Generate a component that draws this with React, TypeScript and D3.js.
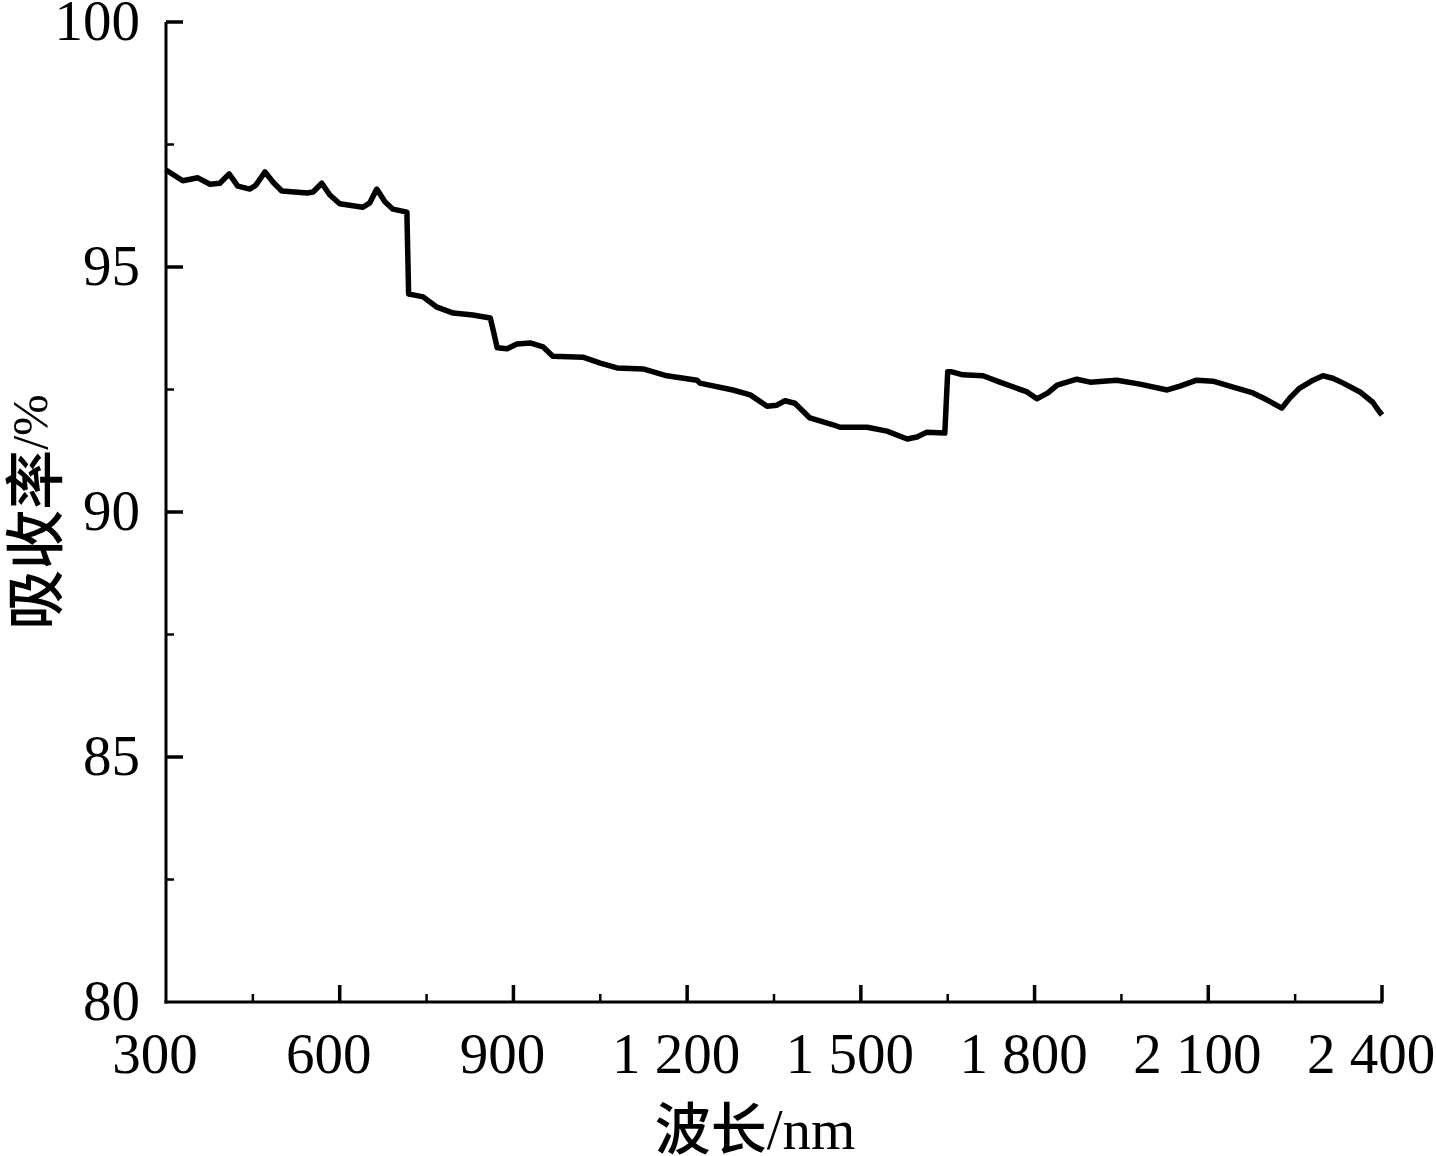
import React, { useEffect, useRef } from "react";
import * as d3 from "d3";

const wavelength = [
  300, 329, 355, 376, 393, 409, 424, 445, 455, 471, 485, 500, 544, 554, 569, 583, 600, 640, 652, 664, 678, 692, 716,
  719, 727, 744, 768, 796, 830, 860, 865, 872, 889, 906, 929, 951, 968, 1020, 1050, 1079, 1124, 1165, 1217, 1222,
  1279, 1309, 1338, 1355, 1369, 1386, 1412, 1452, 1464, 1511, 1545, 1580, 1597, 1614, 1645, 1650, 1657, 1676, 1711,
  1740, 1787, 1804, 1823, 1839, 1873, 1896, 1942, 1982, 2029, 2051, 2080, 2108, 2143, 2177, 2201, 2227, 2241, 2258,
  2281, 2298, 2315, 2333, 2362, 2384, 2396, 2400,
];
const absorptance = [
  96.98, 96.76, 96.82, 96.69, 96.71, 96.9, 96.65, 96.59, 96.67, 96.94, 96.73, 96.55, 96.51, 96.53, 96.71, 96.47, 96.29,
  96.22, 96.31, 96.59, 96.33, 96.18, 96.12, 94.45, 94.43, 94.39, 94.18, 94.06, 94.02, 93.96, 93.71, 93.35, 93.33,
  93.43, 93.45, 93.37, 93.18, 93.16, 93.04, 92.94, 92.92, 92.78, 92.69, 92.63, 92.49, 92.39, 92.16, 92.18, 92.27,
  92.22, 91.92, 91.78, 91.73, 91.73, 91.65, 91.49, 91.53, 91.63, 91.61, 92.86, 92.86, 92.8, 92.78, 92.65, 92.45,
  92.31, 92.43, 92.59, 92.71, 92.65, 92.69, 92.61, 92.49, 92.57, 92.69, 92.67, 92.55, 92.43, 92.29, 92.12, 92.33,
  92.53, 92.69, 92.78, 92.73, 92.63, 92.45, 92.24, 92.04, 91.98,
];
const xMajorTicks = [300, 600, 900, 1200, 1500, 1800, 2100, 2400];
const xMinorTicks = [450, 750, 1050, 1350, 1650, 1950, 2250];
const xTickLabels = ["300", "600", "900", "1 200", "1 500", "1 800", "2 100", "2 400"];
const yMajorTicks = [80, 85, 90, 95, 100];
const yMinorTicks = [82.5, 87.5, 92.5, 97.5];
const yTickLabels = ["80", "85", "90", "95", "100"];
const xTitle = "波长/nm";
const yTitleMain = "吸收率";
const yTitleUnit = "/%";

const W = 1436;
const H = 1156;
const M = { left: 166, right: 54, top: 22, bottom: 154 };
const SERIF = '"Liberation Serif", "Times New Roman", serif';
const CJK = '"Noto Sans CJK SC", "Liberation Serif", sans-serif';

export default function App() {
  const ref = useRef<SVGSVGElement | null>(null);

  useEffect(() => {
    document.body.style.margin = "0";
    const svg = d3.select(ref.current);
    svg.selectAll("*").remove();

    const x = d3.scaleLinear().domain([300, 2400]).range([M.left, W - M.right]);
    const y = d3.scaleLinear().domain([80, 100]).range([H - M.bottom, M.top]);
    const x0 = x(300);
    const y0 = y(80);

    const g = svg.append("g");

    // axis lines
    g.append("line").attr("x1", x0).attr("x2", x0).attr("y1", y(100)).attr("y2", y0 + 1.5)
      .attr("stroke", "#000").attr("stroke-width", 3);
    g.append("line").attr("x1", x0 - 1.5).attr("x2", x(2400) + 1).attr("y1", y0).attr("y2", y0)
      .attr("stroke", "#000").attr("stroke-width", 3);

    // x ticks
    xMajorTicks.forEach((t) => {
      if (t === 300) return;
      g.append("line").attr("x1", x(t)).attr("x2", x(t)).attr("y1", y0).attr("y2", y0 - 17)
        .attr("stroke", "#000").attr("stroke-width", 3.5);
    });
    xMinorTicks.forEach((t) => {
      g.append("line").attr("x1", x(t)).attr("x2", x(t)).attr("y1", y0).attr("y2", y0 - 8)
        .attr("stroke", "#000").attr("stroke-width", 2.5);
    });
    // y ticks
    yMajorTicks.forEach((t) => {
      if (t === 80) return;
      g.append("line").attr("x1", x0).attr("x2", x0 + 17).attr("y1", y(t)).attr("y2", y(t))
        .attr("stroke", "#000").attr("stroke-width", 3.5);
    });
    yMinorTicks.forEach((t) => {
      g.append("line").attr("x1", x0).attr("x2", x0 + 8).attr("y1", y(t)).attr("y2", y(t))
        .attr("stroke", "#000").attr("stroke-width", 2.5);
    });

    // x tick labels
    xMajorTicks.forEach((t, i) => {
      g.append("text").attr("x", x(t) - 11).attr("y", y0 + 71)
        .attr("text-anchor", "middle").attr("font-family", SERIF).attr("font-size", 57)
        .attr("fill", "#000").text(xTickLabels[i]);
    });
    // y tick labels
    yMajorTicks.forEach((t, i) => {
      g.append("text").attr("x", 140).attr("y", y(t) - 2)
        .attr("text-anchor", "end").attr("dominant-baseline", "central")
        .attr("font-family", SERIF).attr("font-size", 57).attr("fill", "#000").text(yTickLabels[i]);
    });

    // x title
    const xt = g.append("text").attr("x", 755).attr("y", 1149).attr("text-anchor", "middle")
      .attr("fill", "#000");
    const parts = xTitle.split("/");
    xt.append("tspan").attr("font-family", CJK).attr("font-weight", 500).attr("font-size", 56).text(parts[0]);
    xt.append("tspan").attr("font-family", SERIF).attr("font-size", 57).text("/" + parts[1]);

    // y title
    const yt = g.append("text").attr("transform", `translate(30, ${(M.top + y0) / 2}) rotate(-90)`)
      .attr("text-anchor", "middle").attr("dominant-baseline", "central").attr("fill", "#000");
    yt.append("tspan").attr("font-family", CJK).attr("font-weight", 500).attr("font-size", 60).text(yTitleMain);
    yt.append("tspan").attr("font-family", SERIF).attr("font-size", 50).text(yTitleUnit);

    // data line
    const data = wavelength.map((w, i) => [w, absorptance[i]] as [number, number]);
    const line = d3.line<[number, number]>().x((d) => x(d[0])).y((d) => y(d[1])).curve(d3.curveLinear);
    g.append("path").datum(data).attr("d", line).attr("fill", "none").attr("stroke", "#000")
      .attr("stroke-width", 5.5).attr("stroke-linejoin", "round").attr("stroke-linecap", "butt");
  }, []);

  return <svg ref={ref} width={W} height={H} style={{ display: "block", background: "#fff" }} />;
}
